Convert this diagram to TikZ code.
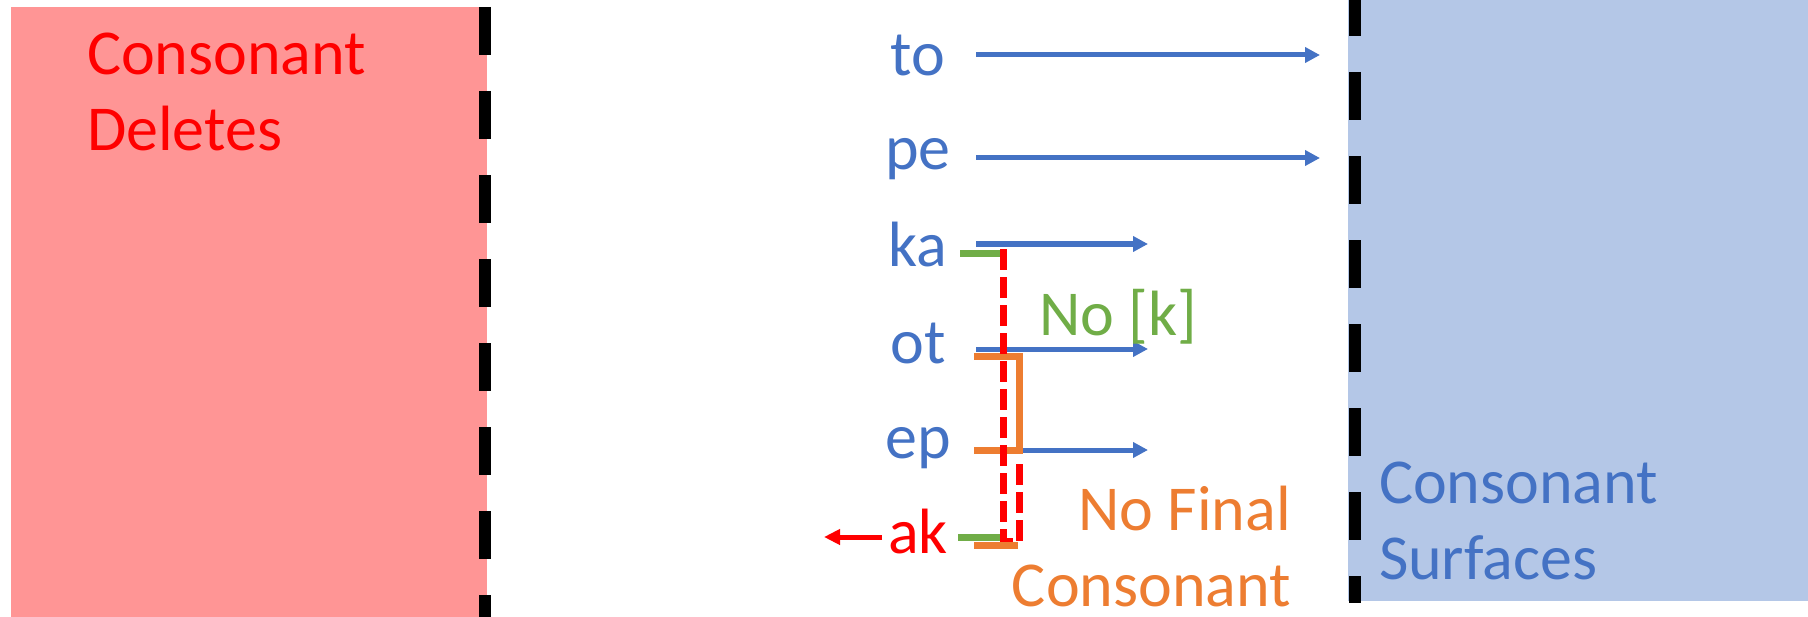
\documentclass[tikz,border=0pt]{standalone}
\usepackage{fontspec}
\setmainfont{Carlito}
\usetikzlibrary{arrows.meta}
\definecolor{pinkbg}{RGB}{255,149,149}
\definecolor{bluebg}{RGB}{180,199,231}
\definecolor{myblue}{RGB}{68,114,196}
\definecolor{mygreen}{RGB}{112,173,71}
\definecolor{myorange}{RGB}{237,125,49}
\definecolor{myred}{RGB}{255,0,0}
\begin{document}
\begin{tikzpicture}[x=1bp,y=-1bp,
  lbl/.style={font=\fontsize{64bp}{77bp}\selectfont, inner sep=0pt, outer sep=0pt},
  word/.style={lbl, text=myblue, anchor=base},
  divider/.style={draw=black, line width=12bp, dash pattern=on 48bp off 36bp},
  barrow/.style={draw=myblue, line width=5bp, -{Triangle[length=15bp,width=15bp]}},
  rarrow/.style={draw=myred, line width=5bp, -{Triangle[length=16bp,width=15bp]}},
  gline/.style={draw=mygreen, line width=7bp},
  oline/.style={draw=myorange, line width=7bp},
  rdash/.style={draw=myred, line width=7bp, dash pattern=on 21bp off 7bp}]
\useasboundingbox (0,0) rectangle (1808,617);
% regions
\fill[pinkbg] (11,7) rectangle (487,617);
\fill[bluebg] (1348,0) rectangle (1808,601);
\coordinate (dlA) at (484.5,7);
\coordinate (dlB) at (484.5,617);
\draw[divider] (dlA) -- (dlB);
\coordinate (drA) at (1354.5,0);
\coordinate (drB) at (1354.5,603);
\draw[divider, dash phase=12bp] (drA) -- (drB);
% region labels
\node[lbl, text=myred, anchor=base west] (cd1) at (87,75) {Consonant};
\node[lbl, text=myred, anchor=base west] (cd2) at (87,151) {Deletes};
\node[lbl, text=myblue, anchor=base west] (cs1) at (1379,503) {Consonant};
\node[lbl, text=myblue, anchor=base west] (cs2) at (1379,579) {Surfaces};
% words
\node[word] (to) at (918,76) {to};
\node[word] (pe) at (918,170) {pe};
\node[word] (ka) at (918,267) {ka};
\node[word] (ot) at (918,363) {ot};
\node[word] (ep) at (918,458) {ep};
\node[word, text=myred] (ak) at (918,553) {ak};
% arrows
\coordinate (toA) at (976,55);   \coordinate (toB) at (1320,55);
\coordinate (peA) at (976,158);  \coordinate (peB) at (1320,158);
\coordinate (kaA) at (976,244);  \coordinate (kaB) at (1148,244);
\coordinate (otA) at (976,349);  \coordinate (otB) at (1148,349);
\coordinate (epA) at (976,450);  \coordinate (epB) at (1148,450);
\coordinate (akA) at (882,537);  \coordinate (akB) at (824,537);
\draw[barrow] (toA) -- (toB);
\draw[barrow] (peA) -- (peB);
\draw[barrow] (kaA) -- (kaB);
\draw[barrow] (otA) -- (otB);
\draw[barrow] (epA) -- (epB);
\draw[rarrow] (akA) -- (akB);
% constraint marks
\coordinate (g1A) at (960,253);  \coordinate (g1B) at (1001,253);
\coordinate (g2A) at (958,537);  \coordinate (g2B) at (1001,537);
\draw[gline] (g1A) -- (g1B);
\draw[gline] (g2A) -- (g2B);
\coordinate (o1A) at (974,356);  \coordinate (o1B) at (1019,356);
\coordinate (o2A) at (974,450);  \coordinate (o2B) at (1019,450);
\draw[oline] (o1A) -- (o1B) -- (o2B) -- (o2A);
\coordinate (r1) at (1003.5,249);
\coordinate (r2) at (1003.5,541);
\coordinate (r3) at (1019.5,541);
\coordinate (r4) at (1019.5,458);
\draw[rdash] (r1) -- (r2) -- (r3) -- (r4);
\coordinate (o3A) at (974,545);  \coordinate (o3B) at (1018,545);
\draw[oline] (o3A) -- (o3B);
% constraint labels
\node[lbl, text=mygreen, anchor=base west] (nok) at (1039,335) {No [k]};
\node[lbl, text=myorange, anchor=base east] (nf1) at (1291,530) {No Final};
\node[lbl, text=myorange, anchor=base east, text depth=0pt] (nf2) at (1291,606) {Consonant};
\end{tikzpicture}
\end{document}
